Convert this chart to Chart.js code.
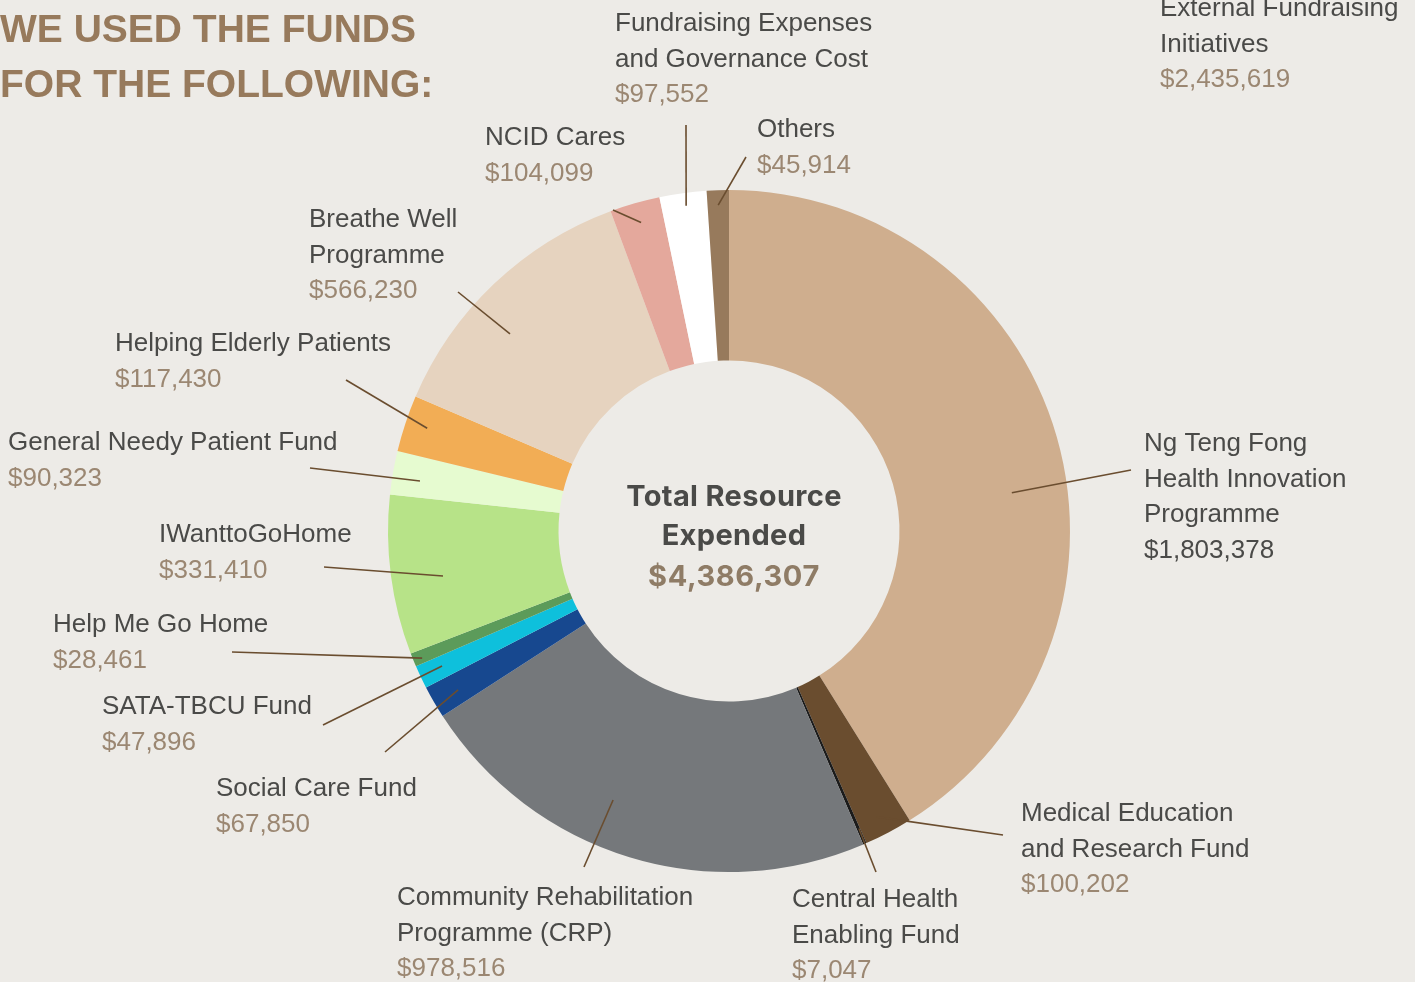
<!DOCTYPE html>
<html>
<head>
<meta charset="utf-8">
<title>We used the funds for the following</title>
<script src="https://cdn.jsdelivr.net/npm/chart.js@4.4.1/dist/chart.umd.min.js"></script>
<style>
    html, body { margin: 0; padding: 0; background: #edebe7; overflow: hidden; }
    #wrap { position: relative; width: 1415px; height: 982px; }
    #donut { position: absolute; left: 0; top: 0; width: 1415px; height: 982px; }
    h1 {
        position: absolute; left: 0; top: 1px; margin: 0;
        font: bold 39px/55px "Liberation Sans", Arial, sans-serif;
        color: #977a5c;
    }
</style>
</head>
<body>
<div id="wrap">
    <canvas id="donut" width="1415" height="982"></canvas>
    <h1>WE USED THE FUNDS<br>FOR THE FOLLOWING:</h1>
</div>
<script>
// Données (sens horaire depuis midi)
const categories = [
    'Ng Teng Fong\nHealth Innovation\nProgramme',
    'Medical Education\nand Research Fund',
    'Central Health\nEnabling Fund',
    'Community Rehabilitation\nProgramme (CRP)',
    'Social Care Fund',
    'SATA-TBCU Fund',
    'Help Me Go Home',
    'IWanttoGoHome',
    'General Needy Patient Fund',
    'Helping Elderly Patients',
    'Breathe Well\nProgramme',
    'NCID Cares',
    'Fundraising Expenses\nand Governance Cost',
    'Others'
];
const amounts = [1803378, 100202, 7047, 978516, 67850, 47896, 28461, 331410, 90323, 117430, 566230, 104099, 97552, 45914];
const sliceColors = [
    '#cfae8e', '#6a4d2f', '#1b1b1b', '#75787b', '#17488f', '#0ec0dc', '#5c9b5a',
    '#b7e388', '#e6fbd0', '#f2ad55', '#e6d3bf', '#e4a89c', '#ffffff', '#977a5c'
];
const totalLabel = ['Total Resource', 'Expended'];
const totalAmount = 4386307;
const externalLabel = ['External Fundraising', 'Initiatives'];
const externalAmount = 2435619;

// Mise en page des étiquettes : position du texte, point d'ancrage sur l'arc (t, r) et bout du trait
const labelLayout = [
    { x: 1144, y: 451, t: 0.556, r: 0.837, lx: 1131, ly: 470, dark: true },
    { x: 1021, y: 821, t: 0.563, r: 0.944, lx: 1003, ly: 835 },
    { x: 792,  y: 907, t: 0.3,   r: 0.952, lx: 876,  ly: 872 },
    { x: 397,  y: 905, t: 0.579, r: 0.859, lx: 584,  ly: 867 },
    { x: 216,  y: 796, t: 0.445, r: 0.921, lx: 385,  ly: 752 },
    { x: 102,  y: 714, t: 0.537, r: 0.930, lx: 323,  ly: 725 },
    { x: 53,   y: 632, t: 0.377, r: 0.974, lx: 232,  ly: 652 },
    { x: 159,  y: 542, t: 0.445, r: 0.849, lx: 324,  ly: 567 },
    { x: 8,    y: 450, t: 0.41,  r: 0.918, lx: 310,  ly: 468 },
    { x: 115,  y: 351, t: 0.543, r: 0.935, lx: 346,  ly: 380 },
    { x: 309,  y: 227, t: 0.404, r: 0.864, lx: 458,  ly: 292 },
    { x: 485,  y: 145, t: 0.517, r: 0.941, lx: 613,  ly: 210 },
    { x: 615,  y: 31,  t: 0.533, r: 0.962, lx: 686,  ly: 125 },
    { x: 757,  y: 137, t: 0.496, r: 0.956, lx: 746,  ly: 157 }
];

const FONT = '"Liberation Sans", Arial, sans-serif';
const NAME_COLOR = '#4a4a48';
const VALUE_COLOR = '#9b8772';
const LINE_GAP = 35.5;

function money(v) {
    return '$' + v.toLocaleString('en-US');
}

function drawBlock(ctx, lines, value, x, y, valueColor) {
    ctx.font = `26px ${FONT}`;
    ctx.textAlign = 'left';
    ctx.textBaseline = 'alphabetic';
    ctx.fillStyle = NAME_COLOR;
    lines.forEach((l, k) => ctx.fillText(l, x, y + k * LINE_GAP));
    ctx.fillStyle = valueColor;
    ctx.fillText(value, x, y + lines.length * LINE_GAP);
}

const calloutPlugin = {
    id: 'callouts',
    afterDraw(chart) {
        const ctx = chart.ctx;
        const meta = chart.getDatasetMeta(0);
        ctx.save();

        meta.data.forEach((arc, i) => {
            const p = labelLayout[i];
            const { x, y, startAngle, endAngle, outerRadius } =
                arc.getProps(['x', 'y', 'startAngle', 'endAngle', 'outerRadius'], true);
            const a = startAngle + p.t * (endAngle - startAngle);
            const r = outerRadius * p.r;

            ctx.strokeStyle = '#6a4d2f';
            ctx.lineWidth = 1.6;
            ctx.beginPath();
            ctx.moveTo(x + Math.cos(a) * r, y + Math.sin(a) * r);
            ctx.lineTo(p.lx, p.ly);
            ctx.stroke();

            drawBlock(ctx, categories[i].split('\n'), money(amounts[i]), p.x, p.y,
                p.dark ? NAME_COLOR : VALUE_COLOR);
        });

        drawBlock(ctx, externalLabel, money(externalAmount), 1160, 16, VALUE_COLOR);

        // texte central
        const cx = meta.data[0].x + 5;
        const cy = meta.data[0].y;
        ctx.textAlign = 'center';
        ctx.font = 'bold 29px Inter, "Liberation Sans", sans-serif';
        ctx.letterSpacing = '0.35px';
        ctx.fillStyle = NAME_COLOR;
        ctx.fillText(totalLabel[0], cx, cy - 25);
        ctx.fillText(totalLabel[1], cx, cy + 14);
        ctx.font = 'bold 29px Inter, "Liberation Sans", sans-serif';
        ctx.letterSpacing = '0.6px';
        ctx.fillStyle = '#8f7c66';
        ctx.fillText(money(totalAmount), cx, cy + 55);
        ctx.letterSpacing = '0px';

        ctx.restore();
    }
};

new Chart(document.getElementById('donut'), {
    type: 'doughnut',
    data: {
        labels: categories,
        datasets: [{
            data: amounts,
            backgroundColor: sliceColors,
            borderWidth: 0,
            hoverOffset: 0
        }]
    },
    options: {
        responsive: false,
        animation: false,
        cutout: '50%',
        layout: { padding: { left: 388, top: 190, right: 345, bottom: 110 } },
        plugins: {
            legend: { display: false },
            tooltip: { enabled: false }
        }
    },
    plugins: [calloutPlugin]
});
</script>
</body>
</html>
